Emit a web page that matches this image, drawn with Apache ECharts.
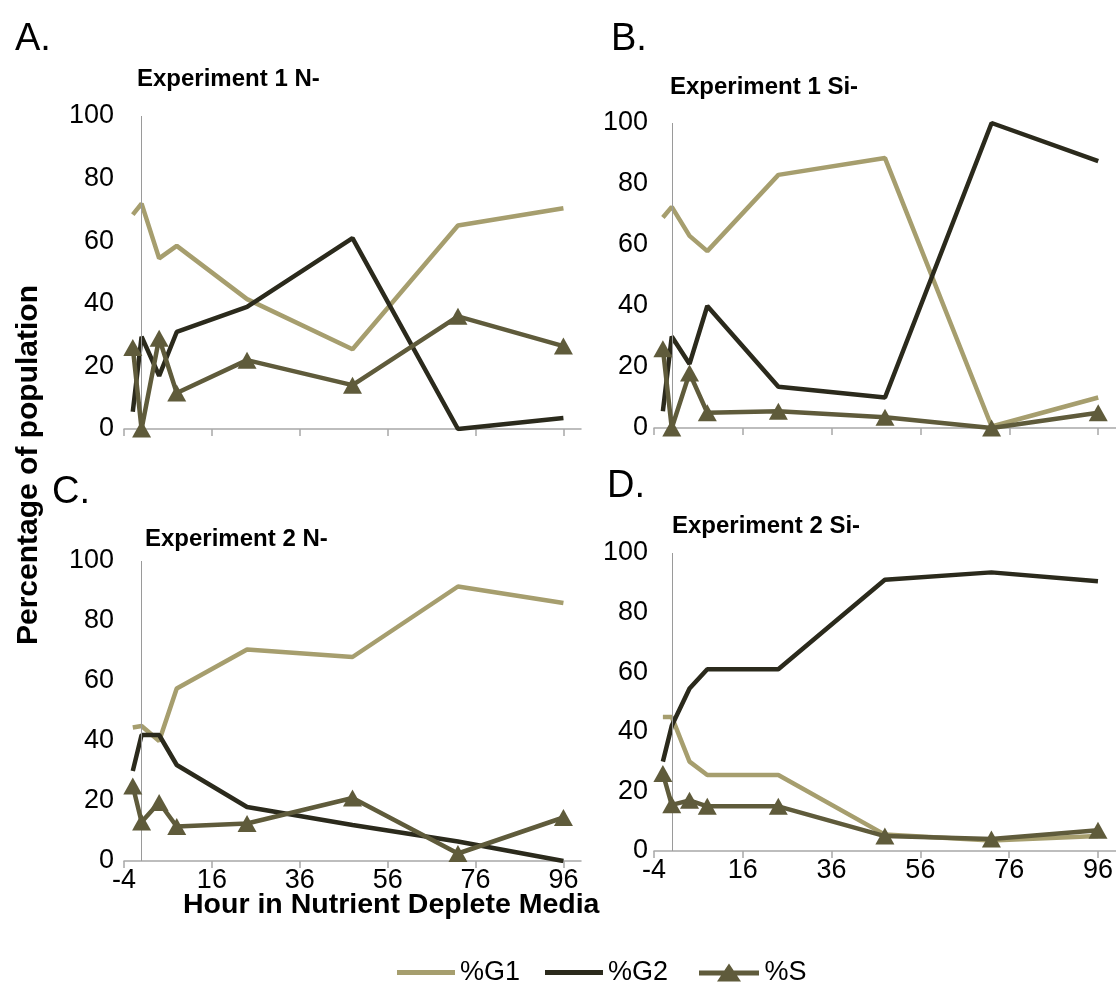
<!DOCTYPE html>
<html>
<head>
<meta charset="utf-8">
<script src="https://cdn.jsdelivr.net/npm/echarts@6/dist/echarts.min.js"></script>
<style>
  html, body { margin: 0; padding: 0; background: #fff; }
  #chart { width: 1116px; height: 1005px; }
</style>
</head>
<body>
<div id="chart"></div>
<script>
// Sampling times (hours in nutrient-deplete media)
const HOURS = [-2, 0, 4, 8, 24, 48, 72, 96];
const X_TICKS = [-4, 16, 36, 56, 76, 96];

// Experiment 1, nitrogen depleted
const exp1N_G1 = [68.5, 72, 54.5, 58.5, 41.5, 25.5, 65, 70.5];
const exp1N_G2 = [5.5, 29.5, 17, 31, 39, 61, 0, 3.5];
const exp1N_S  = [26, 0, 29, 11.5, 22, 14, 36, 26.5];

// Experiment 1, silicon depleted
const exp1Si_G1 = [69, 72.5, 63, 58, 83, 88.5, 0.5, 10];
const exp1Si_G2 = [5.5, 30, 21, 40, 13.5, 10, 100, 87.5];
const exp1Si_S  = [26, 0, 18, 5, 5.5, 3.5, 0, 5];

// Experiment 2, nitrogen depleted
const exp2N_G1 = [44.5, 45, 40, 57.5, 70.5, 68, 91.5, 86];
const exp2N_G2 = [30, 42, 42, 32, 18, 12, 6.5, 0];
const exp2N_S  = [25, 13, 19.5, 11.5, 12.5, 21, 2.5, 14.5];

// Experiment 2, silicon depleted
const exp2Si_G1 = [45, 45, 30, 25.5, 25.5, 5.5, 3.5, 5];
const exp2Si_G2 = [30, 42, 54.5, 61, 61, 91, 93.5, 90.5];
const exp2Si_S  = [26, 15.5, 17, 15, 15, 5, 4, 7];

const PANEL_TITLES = ['Experiment 1 N-', 'Experiment 1 Si-', 'Experiment 2 N-', 'Experiment 2 Si-'];
const PANEL_LETTERS = ['A.', 'B.', 'C.', 'D.'];
const SERIES_NAMES = ['%G1', '%G2', '%S'];

const panelData = [
  [exp1N_G1, exp1N_G2, exp1N_S],
  [exp1Si_G1, exp1Si_G2, exp1Si_S],
  [exp2N_G1, exp2N_G2, exp2N_S],
  [exp2Si_G1, exp2Si_G2, exp2Si_S]
];

// Layout of the four plot areas
const grids = [
  { left: 124, top: 116, width: 457, height: 313 },
  { left: 654, top: 123, width: 463, height: 305 },
  { left: 124, top: 561, width: 457, height: 300 },
  { left: 654, top: 553, width: 463, height: 298 }
];
const titlePos = [
  { left: 137, top: 67 },
  { left: 670, top: 75 },
  { left: 145, top: 527 },
  { left: 672, top: 514 }
];
const letterPos = [
  { left: 15, top: 21 },
  { left: 611, top: 21 },
  { left: 52, top: 474 },
  { left: 607, top: 468 }
];

const FONT = '"Liberation Sans", Arial, Helvetica, sans-serif';
const COLORS = ['#a69e6e', '#2b2a1c', '#5f5b3b'];
const AXIS_GREY = '#a8a8a8';

const titles = [];
PANEL_TITLES.forEach((t, i) => {
  titles.push({
    text: t, left: titlePos[i].left, top: titlePos[i].top, padding: 0,
    textStyle: { fontFamily: FONT, fontSize: 24, fontWeight: 'bold', color: '#000' }
  });
  titles.push({
    text: PANEL_LETTERS[i], left: letterPos[i].left, top: letterPos[i].top, padding: 0,
    textStyle: { fontFamily: FONT, fontSize: 38, fontWeight: 'normal', color: '#000' }
  });
});
titles.push({
  text: 'Hour in Nutrient Deplete Media', left: 183, top: 891, padding: 0,
  textStyle: { fontFamily: FONT, fontSize: 28.5, fontWeight: 'bold', color: '#000' }
});

const xAxes = grids.map((g, i) => ({
  type: 'value', gridIndex: i, min: -4, max: 100,
  axisLine: { onZero: false, lineStyle: { color: AXIS_GREY, width: 1.5 } },
  axisTick: { show: true, customValues: X_TICKS, length: 7, lineStyle: { color: AXIS_GREY, width: 1.5 } },
  axisLabel: {
    show: i >= 2, customValues: X_TICKS, margin: 6,
    fontFamily: FONT, fontSize: 27, color: '#000'
  },
  splitLine: { show: false }
}));

const yAxes = grids.map((g, i) => ({
  type: 'value', gridIndex: i, min: 0, max: 100, interval: 20,
  axisLine: { show: false },
  axisTick: { show: false },
  axisLabel: { margin: i % 2 === 0 ? 10 : 6, fontFamily: FONT, fontSize: 27, color: '#000' },
  splitLine: { show: false }
}));

const series = [];
panelData.forEach((sets, p) => {
  sets.forEach((vals, k) => {
    const s = {
      name: SERIES_NAMES[k], type: 'line',
      xAxisIndex: p, yAxisIndex: p,
      data: HOURS.map((h, j) => [h, vals[j]]),
      lineStyle: { color: COLORS[k], width: 4.5 },
      itemStyle: { color: COLORS[k] },
      symbol: k === 2 ? 'triangle' : 'none',
      symbolSize: [19, 17],
      z: 3 + k,
      animation: false
    };
    if (k === 0) {
      // vertical axis drawn where hour = 0
      s.markLine = {
        silent: true, symbol: 'none', animation: false,
        label: { show: false },
        lineStyle: { color: '#9a9a9a', width: 1, type: 'solid' },
        data: [{ xAxis: 0 }]
      };
    }
    series.push(s);
  });
});

// Legend icons: plain thick lines for G1/G2, line with a triangle for S
const LINE_ICON = 'rect';
const TRI_ICON = 'path://M0,7 L25.33,7 L30,0 L34.67,7 L60,7 L60,12 L38,12 L42,18 L18,18 L22,12 L0,12 Z';
const legendText = { fontFamily: FONT, fontSize: 27, color: '#000' };
const legends = [
  { data: [{ name: '%G1', icon: LINE_ICON }], left: 392, itemWidth: 58, itemHeight: 5 },
  { data: [{ name: '%G2', icon: LINE_ICON }], left: 540, itemWidth: 58, itemHeight: 5 },
  { data: [{ name: '%S', icon: TRI_ICON }], left: 694, itemWidth: 61, itemHeight: 18 }
].map(l => Object.assign(l, {
  top: 954,
  textStyle: legendText,
  selectedMode: false
}));

const chart = echarts.init(document.getElementById('chart'), null, { renderer: 'canvas' });
chart.setOption({
  animation: false,
  backgroundColor: '#fff',
  title: titles,
  grid: grids,
  xAxis: xAxes,
  yAxis: yAxes,
  legend: legends,
  graphic: [{
    type: 'text', x: 29, y: 465, rotation: Math.PI / 2,
    style: {
      text: 'Percentage of population', fontFamily: FONT,
      fontSize: 30, fontWeight: 'bold', fill: '#000',
      align: 'center', verticalAlign: 'middle'
    }
  }],
  series: series
});
</script>
</body>
</html>
